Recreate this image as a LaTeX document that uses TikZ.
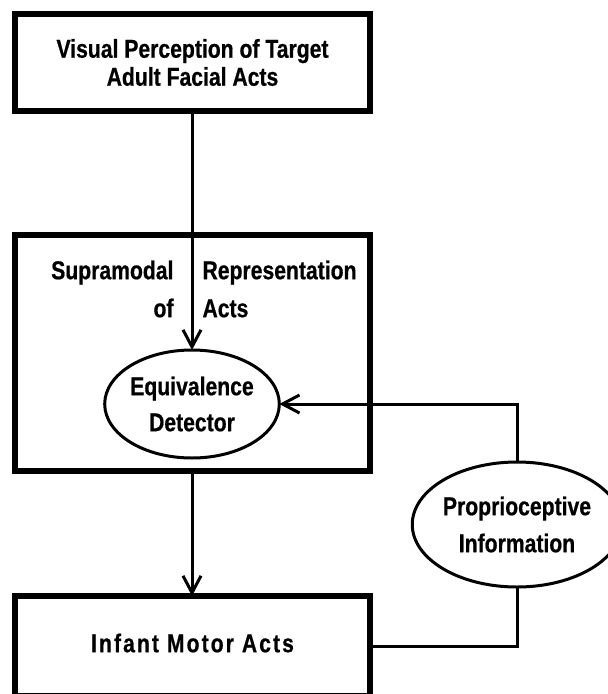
\documentclass[tikz,border=0pt]{standalone}
\usepackage{fontspec}
\setmainfont[FakeStretch=0.82,BoldFeatures={FakeBold=0.6}]{Liberation Sans}
\newfontfamily\spacedfont[FakeStretch=0.82,LetterSpace=8,BoldFeatures={FakeBold=0.6}]{Liberation Sans}
\usetikzlibrary{arrows.meta,shapes.geometric}
\tikzset{
  box/.style={draw,line width=6pt,rectangle,outer sep=0pt,minimum width=355pt,align=center},
  oval/.style={draw,line width=3pt,ellipse,outer sep=0pt,inner sep=0pt,align=center},
  conn/.style={line width=3pt},
  arr/.style={conn,-{Straight Barb[length=17pt,width=18pt,line width=3pt]}},
  lbl/.style={font=\bfseries\fontsize{25.8}{28}\selectfont}
}
\begin{document}
\begin{tikzpicture}[x={(1pt,0pt)},y={(0pt,-1pt)}]
\useasboundingbox (0,0) rectangle (608,694);
% boxes
\node[box,lbl,minimum height=97pt] (visual) at (192.5,62.5) {Visual Perception of Target\\Adult Facial Acts};
\node[box,minimum height=236pt] (supra) at (192.5,353) {};
\node[box,minimum height=100pt] (infant) at (192.5,646) {};
\node[font=\spacedfont\bfseries\fontsize{25.8}{28}\selectfont] (infanttext) at (192.5,643) {Infant Motor Acts};
% labels inside the middle box
\node[lbl,font=\bfseries\fontsize{25.8}{38}\selectfont,align=right,anchor=east] (supraL) at (177,289) {Supramodal\\of};
\node[lbl,font=\bfseries\fontsize{25.8}{38}\selectfont,align=left,anchor=west] (supraR) at (199,289) {Representation\\Acts};
% ovals
\node[oval,lbl,font=\bfseries\fontsize{25.8}{36}\selectfont,minimum width=168pt,minimum height=108pt] (equiv) at (192,404) {Equivalence\\Detector};
\node[oval,lbl,font=\bfseries\fontsize{25.8}{37}\selectfont,minimum width=186pt,minimum height=125pt] (proprio) at (517,524.5) {Proprioceptive\\Information};
% connectors
\draw[arr] (visual.south -| equiv.north) -- (equiv.north);
\draw[arr] (supra.south -| equiv.north) -- (infant.north -| equiv.north);
\draw[conn] (infant.east) -- (infant.east -| proprio.south) -- (proprio.south);
\draw[arr] (proprio.north) |- (equiv.east);
\end{tikzpicture}
\end{document}
